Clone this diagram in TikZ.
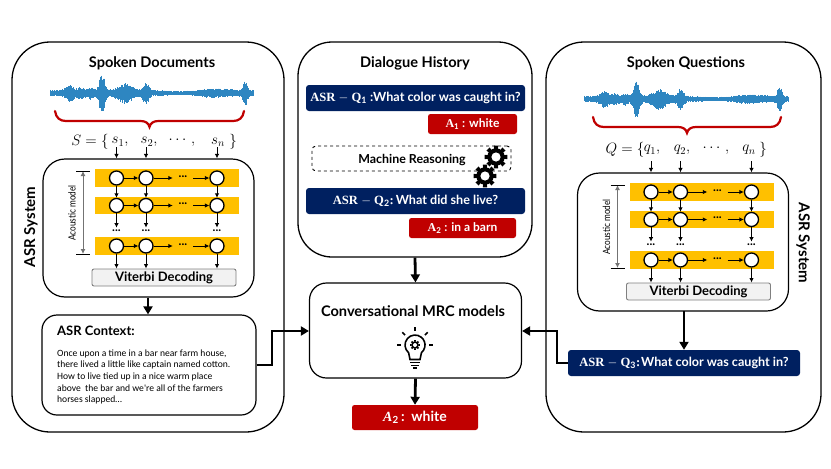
\documentclass[tikz,border=0pt]{standalone}
\usepackage{fix-cm}
\usepackage{fontspec}
\setmainfont{Lato}
\newfontfamily\capfont{Carlito}
\newfontfamily\serifb{Liberation Serif}
\usetikzlibrary{arrows.meta,calc}
\definecolor{navy}{HTML}{002060}
\definecolor{redd}{HTML}{C00000}
\definecolor{gold}{HTML}{FFC000}
\definecolor{wave}{HTML}{2E86C1}
\tikzset{
 x=1pt,y=-1pt,
 outerbox/.style={draw=black,line width=1.3pt,rounded corners=38pt,fill=white,inner sep=0pt},
 innerbox/.style={draw=black,line width=1.2pt,rounded corners=22pt,fill=white,inner sep=0pt},
 ctxbox/.style={draw=black,line width=1.2pt,rounded corners=15pt,fill=white,inner sep=0pt},
 titletext/.style={font=\bfseries\fontsize{14.6}{16}\selectfont,inner sep=0pt},
 navybox/.style={fill=navy,rounded corners=3pt,text=white,inner sep=0pt,minimum height=26pt,font=\bfseries\fontsize{12.6}{14}\selectfont},
 redbox/.style={fill=redd,rounded corners=2.5pt,text=white,inner sep=0pt,minimum height=20pt,font=\bfseries\fontsize{12}{14}\selectfont},
 hmm/.style={circle,draw=black,fill=white,line width=1.3pt,minimum size=14pt,inner sep=0pt},
 bar/.style={fill=gold,draw=none,minimum width=144pt,minimum height=17.5pt,inner sep=0pt},
 vit/.style={draw=gray,fill=black!5,rounded corners=2pt,line width=.9pt,minimum width=144pt,minimum height=17pt,inner sep=0pt,font=\bfseries\fontsize{13}{14}\selectfont},
 thin arrow/.style={-{Latex[length=4.5pt,width=4.5pt]},line width=.9pt},
 thick arrow/.style={-{Triangle[length=8pt,width=9pt]},line width=2.8pt},
 dotsn/.style={inner sep=0pt,font=\bfseries\fontsize{12}{12}\selectfont,minimum width=20pt},
 mathn/.style={inner sep=0pt,font=\fontsize{15}{17}\selectfont},
}
\newcommand\wavedraw[2]{% x0, yc
 \pgfmathsetseed{7}
 \foreach \i in {0,0.7,...,204}{
  \pgfmathsetmacro\env{3.2+5*exp(-((\i-20)/5)^2)+3*exp(-((\i-31)/4)^2)+3*exp(-((\i-41)/4)^2)+17*exp(-((\i-52)/3.5)^2)+6.5*exp(-((\i-75)/9)^2)+8*exp(-((\i-96)/3.5)^2)+1.5*exp(-((\i-165)/18)^2)+11*exp(-((\i-195)/2.5)^2)-1.2*exp(-((\i-130)/20)^2)}
  \pgfmathsetmacro\ra{\env*(0.65+0.35*rnd)}
  \pgfmathsetmacro\rb{\env*(0.65+0.35*rnd)*1.1}
  \draw[wave,line width=.8pt] (#1+\i,#2-\ra) -- (#1+\i,#2+\rb);
 }
}
\newcommand\bracedraw[3]{% left x, right x, top y
 \pgfmathsetmacro\mx{(#1+#2)/2}
 \draw[redd,line width=2.2pt,line cap=round] (#1,#3) .. controls (#1+1,#3+7) and (#1+5,#3+10) .. (#1+11,#3+10) -- (\mx-9,#3+10) .. controls (\mx-4,#3+10) and (\mx-1,#3+12) .. (\mx,#3+16) .. controls (\mx+1,#3+12) and (\mx+4,#3+10) .. (\mx+9,#3+10) -- (#2-11,#3+10) .. controls (#2-5,#3+10) and (#2-1,#3+7) .. (#2,#3);
}
\newcommand\geardraw[3]{% x,y,r
 \fill[black] (#1,#2) circle ({#3*0.76});
 \foreach \a in {0,45,...,315}{
  \fill[black] ($(#1,#2)+(\a-13:{#3*0.7})$) -- ($(#1,#2)+(\a-11:#3)$) -- ($(#1,#2)+(\a+11:#3)$) -- ($(#1,#2)+(\a+13:{#3*0.7})$) -- cycle;
 }
 \fill[white] (#1,#2) circle ({#3*0.4});
}
\newcommand\asrblock{%
 \node[innerbox,minimum width=211pt,minimum height=138pt] (inner) at (148.5,228) {};
 \foreach \r/\y in {1/178,2/205.5,3/246}{
  \node[bar] at (167,\y) {};
  \node[hmm] (c1\r) at (116.5,\y) {};
  \node[hmm] (c2\r) at (146,\y) {};
  \node[hmm] (c3\r) at (217,\y) {};
  \node[dotsn] (dd\r) at (183,\y-1.5) {...};
  \draw[thin arrow] (c1\r) -- (c2\r);
  \draw[thin arrow] (c2\r.east) -- (dd\r.west |- c2\r.east);
  \draw[thin arrow] (dd\r.east |- c3\r.west) -- (c3\r.west);
 }
 \node[vit] (vd) at (164,277.5) {Viterbi Decoding};
 \foreach \c in {1,2,3}{
  \draw[thin arrow] (c\c1) -- (c\c2);
  \coordinate (e\c) at ($(c\c2.south)+(0,14.5)$);
  \draw[thin arrow] (c\c2) -- (e\c);
  \node[dotsn] at ($(c\c2.south)+(0,17.5)$) {...};
  \draw[thin arrow] (c\c3) -- (c\c3 |- vd.north);
  \coordinate (t\c) at ($(c\c1 |- inner.north)+(0,-11)$);
  \draw[thin arrow] (t\c) -- (c\c1 |- inner.north);
 }
 \coordinate (aa) at (83,171);
 \coordinate (ab) at (83,254);
 \draw[black!55,line width=1pt,{Latex[length=5pt,width=5pt]}-{Latex[length=5pt,width=5pt]}] (aa) -- (ab);
 \draw[black,line width=.7pt] ($(aa)+(-7,0)$) -- ($(aa)+(7,0)$);
 \draw[black,line width=.7pt] ($(ab)+(-7,0)$) -- ($(ab)+(7,0)$);
 \node[rotate=90,inner sep=0pt,font=\fontsize{10}{11}\selectfont] at (72,213) {\scalebox{.82}[1]{Acoustic model}};
}
\begin{document}
\begin{tikzpicture}
\useasboundingbox (0,0) rectangle (831,469);
% outer boxes
\node[outerbox,minimum width=272pt,minimum height=390pt] (left) at (148,237) {};
\node[outerbox,minimum width=234pt,minimum height=215pt,rounded corners=34pt] (mid) at (415,149.5) {};
\node[outerbox,minimum width=275pt,minimum height=390pt] (right) at (683.5,237) {};
% titles
\node[titletext] (t1) at (152,63) {Spoken Documents};
\node[titletext] (t2) at (415,63) {Dialogue History};
\node[titletext] (t3) at (686,63) {Spoken Questions};
% left column
\wavedraw{50}{93}
\bracedraw{55}{244}{111}
\node[mathn] (seq) at (90,142) {$S=\{$};
\node[mathn] (s1) at (120,142) {$s_1,$};
\node[mathn] (s2) at (149,142) {$s_2,$};
\node[mathn] (sd) at (182,142) {$\cdots\,,$};
\node[mathn] (sn) at (218,142) {$s_n$};
\node[mathn] (sc) at (233,142) {$\}$};
\begin{scope}[name prefix=L-]
\asrblock
\end{scope}
\node[rotate=90,titletext,font=\bfseries\fontsize{15}{16}\selectfont] (asr1) at (31,227) {ASR System};
\node[ctxbox,minimum width=214pt,minimum height=100pt] (ctx) at (149,365) {};
\node[anchor=west,inner sep=0pt,font=\bfseries\fontsize{13}{14}\selectfont] (ctxt) at (57,331) {ASR Context:};
\node[anchor=north west,inner sep=0pt,align=left,font=\capfont\fontsize{9.6}{11.6}\selectfont] (ctxb) at (57,349.5) {Once upon a time in a bar near farm house,\\there lived a little like captain named cotton.\\How to live tied up in a nice warm place\\above\ \ the bar and we're all of the farmers\\horses slapped\ldots};
\draw[thick arrow] (L-inner.south -| 148,0) -- (ctx.north -| 148,0);
% middle
\node[navybox,minimum width=219pt] (q1) at (415.5,98) {{\serifb ASR $-$ Q$_{\mathbf 1}$} :What color was caught in?};
\node[redbox,minimum width=89pt] (a1) at (472.5,124) {{\serifb A$_{\mathbf 1}$} : white};
\node[draw=black,dashed,line width=.9pt,rounded corners=4pt,minimum width=199pt,minimum height=25pt,inner sep=0pt] (mr) at (411.5,158.5) {};
\node[inner sep=0pt,font=\bfseries\fontsize{12.4}{14}\selectfont] (mrt) at (412,160) {Machine Reasoning};
\geardraw{496}{157}{11.5}
\geardraw{485}{176}{11.5}
\node[navybox,minimum width=219pt] (q2) at (415.5,201) {{\serifb ASR $-$ Q$_{\mathbf 2}$:}\hspace{2pt}What did she live?};
\node[redbox,minimum width=107pt] (a2) at (462.5,228) {{\serifb A$_{\mathbf 2}$} : in a barn};
% center model
\node[draw=black,line width=1.2pt,rounded corners=17pt,minimum width=212pt,minimum height=95pt,inner sep=0pt,fill=white] (mrc) at (415.5,330.5) {};
\node[titletext] (mrct) at (413,311) {Conversational MRC models};
% bulb
\begin{scope}[line width=1.6pt]
 \draw (408.6,352.7) arc (130:410:10) -- (420,359.5) -- (410,359.5) -- cycle;
 \draw (410,362.5) -- (420,362.5);
 \draw (411,365.3) -- (419,365.3);
 \draw (413,368) -- (417,368);
 \foreach \a in {0,180,225,270,315}{
  \draw ($(415,345)+(\a:14)$) -- ($(415,345)+(\a:18)$);
 }
\end{scope}
\geardraw{415}{345}{5}
\node[fill=redd,rounded corners=2.5pt,text=white,inner sep=0pt,minimum width=126pt,minimum height=25pt,font=\bfseries\fontsize{14}{16}\selectfont] (ans) at (415,417.5) {{\serifb\itshape A}$_{\mathbf 2}$\,:\ \ white};
% right column
\wavedraw{584.5}{99}
\bracedraw{593}{781}{117}
\node[mathn] (qeq) at (625,150) {$Q=\{$};
\node[mathn] (q1s) at (652,150) {$q_1,$};
\node[mathn] (q2s) at (682,150) {$q_2,$};
\node[mathn] (qd) at (716,150) {$\cdots\,,$};
\node[mathn] (qn) at (749,150) {$q_n$};
\node[mathn] (qc) at (763,150) {$\}$};
\begin{scope}[shift={(534.5,14)},name prefix=R-]
\asrblock
\end{scope}
\node[rotate=-90,titletext,font=\bfseries\fontsize{15}{16}\selectfont] (asr2) at (803,243) {ASR System};
\node[navybox,minimum width=232pt] (q3) at (684,363) {{\serifb ASR $-$ Q$_{\mathbf 3}$:}\hspace{1pt}What color was caught in?};
% connectors
\draw[thick arrow] (mid.south) -- (mrc.north);
\draw[thick arrow] (mrc.south) -- (ans.north);
\draw[thick arrow] (ctx.east |- 0,365) -- (272,365) -- (272,331) -- (mrc.west |- 0,331);
\draw[thick arrow] (q3.west) -- (557,363) -- (557,331) -- (mrc.east |- 0,331);
\draw[thick arrow] (684,311) -- (q3.north -| 684,0);
\end{tikzpicture}
\end{document}
